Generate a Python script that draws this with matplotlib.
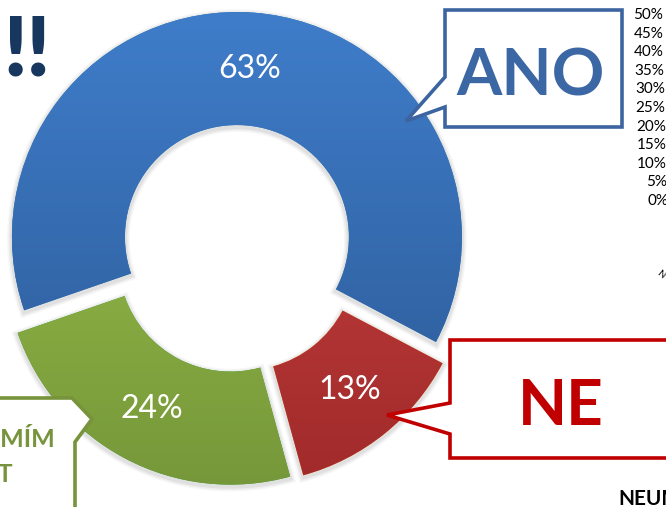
import numpy as np
import matplotlib.pyplot as plt
from matplotlib.patches import Polygon, Wedge
from matplotlib.colors import to_rgb

answers = ['ANO', 'NE', 'NEVÍM']
shares = [63, 13, 24]
light = ['#3f7dca', '#cf4646', '#a0c44c']
dark = ['#2c5a96', '#a12a2a', '#76983a']

# percent scale of the neighbouring chart
scale_ticks = [50, 45, 40, 35, 30, 25, 20, 15, 10, 5, 0]

W, H = 666, 507
plt.rcParams['font.family'] = ['Lato', 'DejaVu Sans']

fig = plt.figure(figsize=(W / 100, H / 100), dpi=100)
ax = fig.add_axes([0, 0, 1, 1])


def up(y):
    # positions are measured from the top edge
    return H - y


wedges, _, pct = ax.pie(shares, radius=225, center=(236, up(249)), startangle=199,
                        counterclock=False, explode=[12, 12, 12],
                        wedgeprops=dict(width=113, linewidth=0),
                        autopct='%.0f%%', pctdistance=0.75,
                        textprops=dict(color='white', fontsize=23))

t = np.linspace(0, 1, 256)[:, None]
for w, c0, c1 in zip(wedges, light, dark):
    cx, cy = w.center
    r = w.r
    # soft halo around each segment
    for lw, a in [(7, 0.03), (5, 0.04), (3, 0.05)]:
        ax.add_patch(Wedge((cx, cy - 2), r, w.theta1, w.theta2, width=w.width,
                           fc='none', ec='black', lw=lw, alpha=a, zorder=0.5))
    grad = (1 - t) * np.array(to_rgb(c1)) + t * np.array(to_rgb(c0))
    img = ax.imshow(grad[:, None, :], extent=(cx - r, cx + r, cy - r, cy + r),
                    origin='lower', aspect='auto', interpolation='bicubic', zorder=1.5)
    img.set_clip_path(w)

for txt in pct:
    txt.set_zorder(5)


def callout(points, color):
    ax.add_patch(Polygon([(x, up(y)) for x, y in points], closed=True, fc='white',
                         ec=color, lw=2.6, joinstyle='miter', zorder=4))


callout([(445, 10), (622, 10), (622, 127), (445, 127), (445, 107), (406, 121), (445, 77)],
        '#3c64a0')
callout([(450, 340), (690, 340), (690, 458), (450, 458), (450, 434), (387, 415), (450, 403)],
        '#c00000')
callout([(-20, 398), (72, 398), (92, 419), (75, 442), (75, 530), (-20, 530)],
        '#77933c')

ax.text(531, up(95), 'ANO', color='#3c67a5', fontsize=47, fontweight='bold',
        ha='center', va='baseline', zorder=6)
ax.text(561, up(425), 'NE', color='#c00000', fontsize=46, fontweight='bold',
        ha='center', va='baseline', zorder=6)
ax.text(55, up(447), 'NEUMÍM', color='#77933c', fontsize=18, fontweight='bold',
        ha='right', va='baseline', zorder=6)
ax.text(13, up(482), 'POSOUDIT', color='#77933c', fontsize=18, fontweight='bold',
        ha='right', va='baseline', zorder=6)

ax.text(3, up(76), '!!', color='#17375e', fontsize=58, fontweight='heavy',
        ha='left', va='baseline')

for i, v in enumerate(scale_ticks):
    ax.text(663 + i * 0.5, up(15 + i * 18.6), f'{v}%', fontsize=11, color='black',
            ha='right', va='center')

ax.text(618, up(505), 'NEUMÍM', fontsize=15, fontweight='bold', color='black',
        ha='left', va='baseline')
ax.text(661, up(274), 'N', fontsize=7, rotation=-40, color='black',
        ha='center', va='center')

ax.set_xlim(0, W)
ax.set_ylim(0, H)
ax.set_aspect('auto')
ax.axis('off')

fig.savefig('out.png', dpi=100)
